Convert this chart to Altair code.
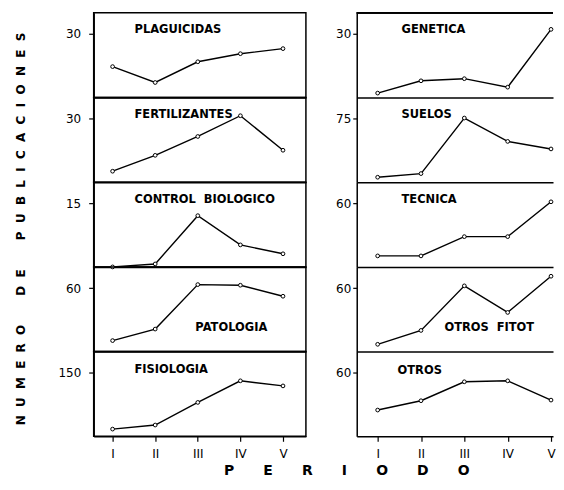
import json
import altair as alt
import pandas as pd

# ---------------- data ----------------
periods = ["I", "II", "III", "IV", "V"]

plaguicidas = [14.6, 7.1, 16.9, 20.7, 23.1]
fertilizantes = [5.2, 12.7, 21.6, 31.4, 15.1]
control_biologico = [0.0, 0.7, 12.1, 5.2, 3.1]
patologia = [10.4, 21.3, 63.3, 62.7, 52.3]
fisiologia = [17, 26.6, 80, 131, 119]

genetica = [2.1, 7.9, 8.9, 4.9, 32.2]
suelos = [5.9, 10.2, 75.8, 48.2, 39.3]
tecnica = [10.4, 10.4, 28.6, 28.6, 61.5]
otros_fitot = [6.9, 20.0, 62.1, 37.0, 71.2]
otros = [24.8, 33.6, 51.5, 52.4, 34.2]

left_names = ["PLAGUICIDAS", "FERTILIZANTES", "CONTROL\u00a0\u00a0BIOLOGICO", "PATOLOGIA", "FISIOLOGIA"]
right_names = ["GENETICA", "SUELOS", "TECNICA", "OTROS\u00a0\u00a0FITOT", "OTROS"]
left_series = [plaguicidas, fertilizantes, control_biologico, patologia, fisiologia]
right_series = [genetica, suelos, tecnica, otros_fitot, otros]
left_ticks = [30, 30, 15, 60, 150]
right_ticks = [30, 75, 60, 60, 60]
left_max = [40, 40, 20, 80, 200]
right_max = [40, 100, 80, 80, 80]

y_title = "N U M E R O   D E   P U B L I C A C I O N E S"
x_title = "P E R I O D O"

# ---------------- layout / style ----------------
FONT = "DejaVu Sans"
PANEL_H = 85
LEFT_W, RIGHT_W = 213, 197
LEFT_XDOM = [0.556, 5.538]
RIGHT_XDOM = [0.517, 5.046]
AXIS_EXT = 40
left_label_pos = [(41, 17), (41, 18), (41, 18), (102, 61), (41, 18)]
right_label_pos = [(45, 17), (45, 18), (45, 18), (88, 61), (41, 19)]


def spaced(text, letter_gap, word_gap):
    words = text.split("   ")
    return ("\u00a0" * word_gap).join(("\u00a0" * letter_gap).join(w.split(" ")) for w in words)


label_expr = json.dumps(periods) + "[datum.value - 1]"


def panel(name, vals, tick, ymax, col, pos, bottom, top):
    df = pd.DataFrame({"idx": list(range(1, len(periods) + 1)), "periodo": periods, "n": vals})
    xdom = LEFT_XDOM if col == 0 else RIGHT_XDOM
    if bottom:
        xaxis = alt.Axis(values=[1, 2, 3, 4, 5], labelExpr=label_expr, title=None, grid=False,
                         tickSize=5, labelPadding=7, labelFontSize=12, labelColor="black",
                         domain=True)
    else:
        xaxis = alt.Axis(values=[1, 2, 3, 4, 5], labels=False, ticks=False, title=None,
                         grid=False, domain=True)
    x = alt.X("idx:Q", scale=alt.Scale(domain=xdom, nice=False, zero=False), axis=xaxis)
    y = alt.Y("n:Q", scale=alt.Scale(domain=[0, ymax], nice=False),
              axis=alt.Axis(values=[tick], title=None, grid=False, domain=True,
                            tickSize=5 if col == 0 else 4,
                            labelPadding=8 if col == 0 else 2,
                            minExtent=AXIS_EXT, maxExtent=AXIS_EXT))
    base = alt.Chart(df)
    line = base.mark_line(color="black", strokeWidth=1.4).encode(x=x, y=y)
    pts = base.mark_point(shape="circle", filled=True, fill="white", stroke="black",
                          strokeWidth=1, size=14, opacity=1).encode(x=x, y=y)
    lab = alt.Chart(pd.DataFrame({"t": [name]})).mark_text(
        align="left", baseline="middle", font=FONT, fontSize=11.5, fontWeight="bold", color="black"
    ).encode(text="t:N", x=alt.value(pos[0]), y=alt.value(pos[1]))
    layers = [line, pts, lab]
    if col == 1 and top:
        layers.append(base.mark_rule(color="black", strokeWidth=1.2).encode(y=alt.datum(ymax)))
    ch = alt.layer(*layers).properties(width=LEFT_W if col == 0 else RIGHT_W, height=PANEL_H)
    if col == 1:
        ch = ch.properties(view=alt.ViewBackground(stroke="transparent"))
    return ch


left_col = alt.vconcat(
    *[panel(left_names[i], left_series[i], left_ticks[i], left_max[i], 0, left_label_pos[i],
            i == 4, i == 0) for i in range(5)],
    spacing=0, bounds="flush")
right_col = alt.vconcat(
    *[panel(right_names[i], right_series[i], right_ticks[i], right_max[i], 1, right_label_pos[i],
            i == 4, i == 0) for i in range(5)],
    spacing=0, bounds="flush")

ychart = alt.Chart(pd.DataFrame({"t": [spaced(y_title, 2, 7)]})).mark_text(
    angle=270, align="center", baseline="middle", font=FONT, fontSize=12, fontWeight="bold",
    color="black"
).encode(text="t:N", x=alt.value(12), y=alt.value(217)).properties(
    width=34, height=PANEL_H * 5, view=alt.ViewBackground(stroke="transparent"))

chart = alt.hconcat(ychart, left_col, right_col, spacing=9).properties(
    padding={"left": 0, "top": 2, "right": 0, "bottom": 0},
    title=alt.TitleParams(text=spaced(x_title, 6, 6), orient="bottom", anchor="middle", dx=65,
                          offset=4, font=FONT, fontSize=14, fontWeight="bold", color="black"),
).configure_view(stroke="black", strokeWidth=1.5).configure_axis(
    labelFont=FONT, labelFontSize=12, labelColor="black", tickColor="black", domainColor="black",
    domainWidth=1.5, tickWidth=1.2
)

chart.save("out.html", embed_options={"renderer": "svg", "actions": False})
